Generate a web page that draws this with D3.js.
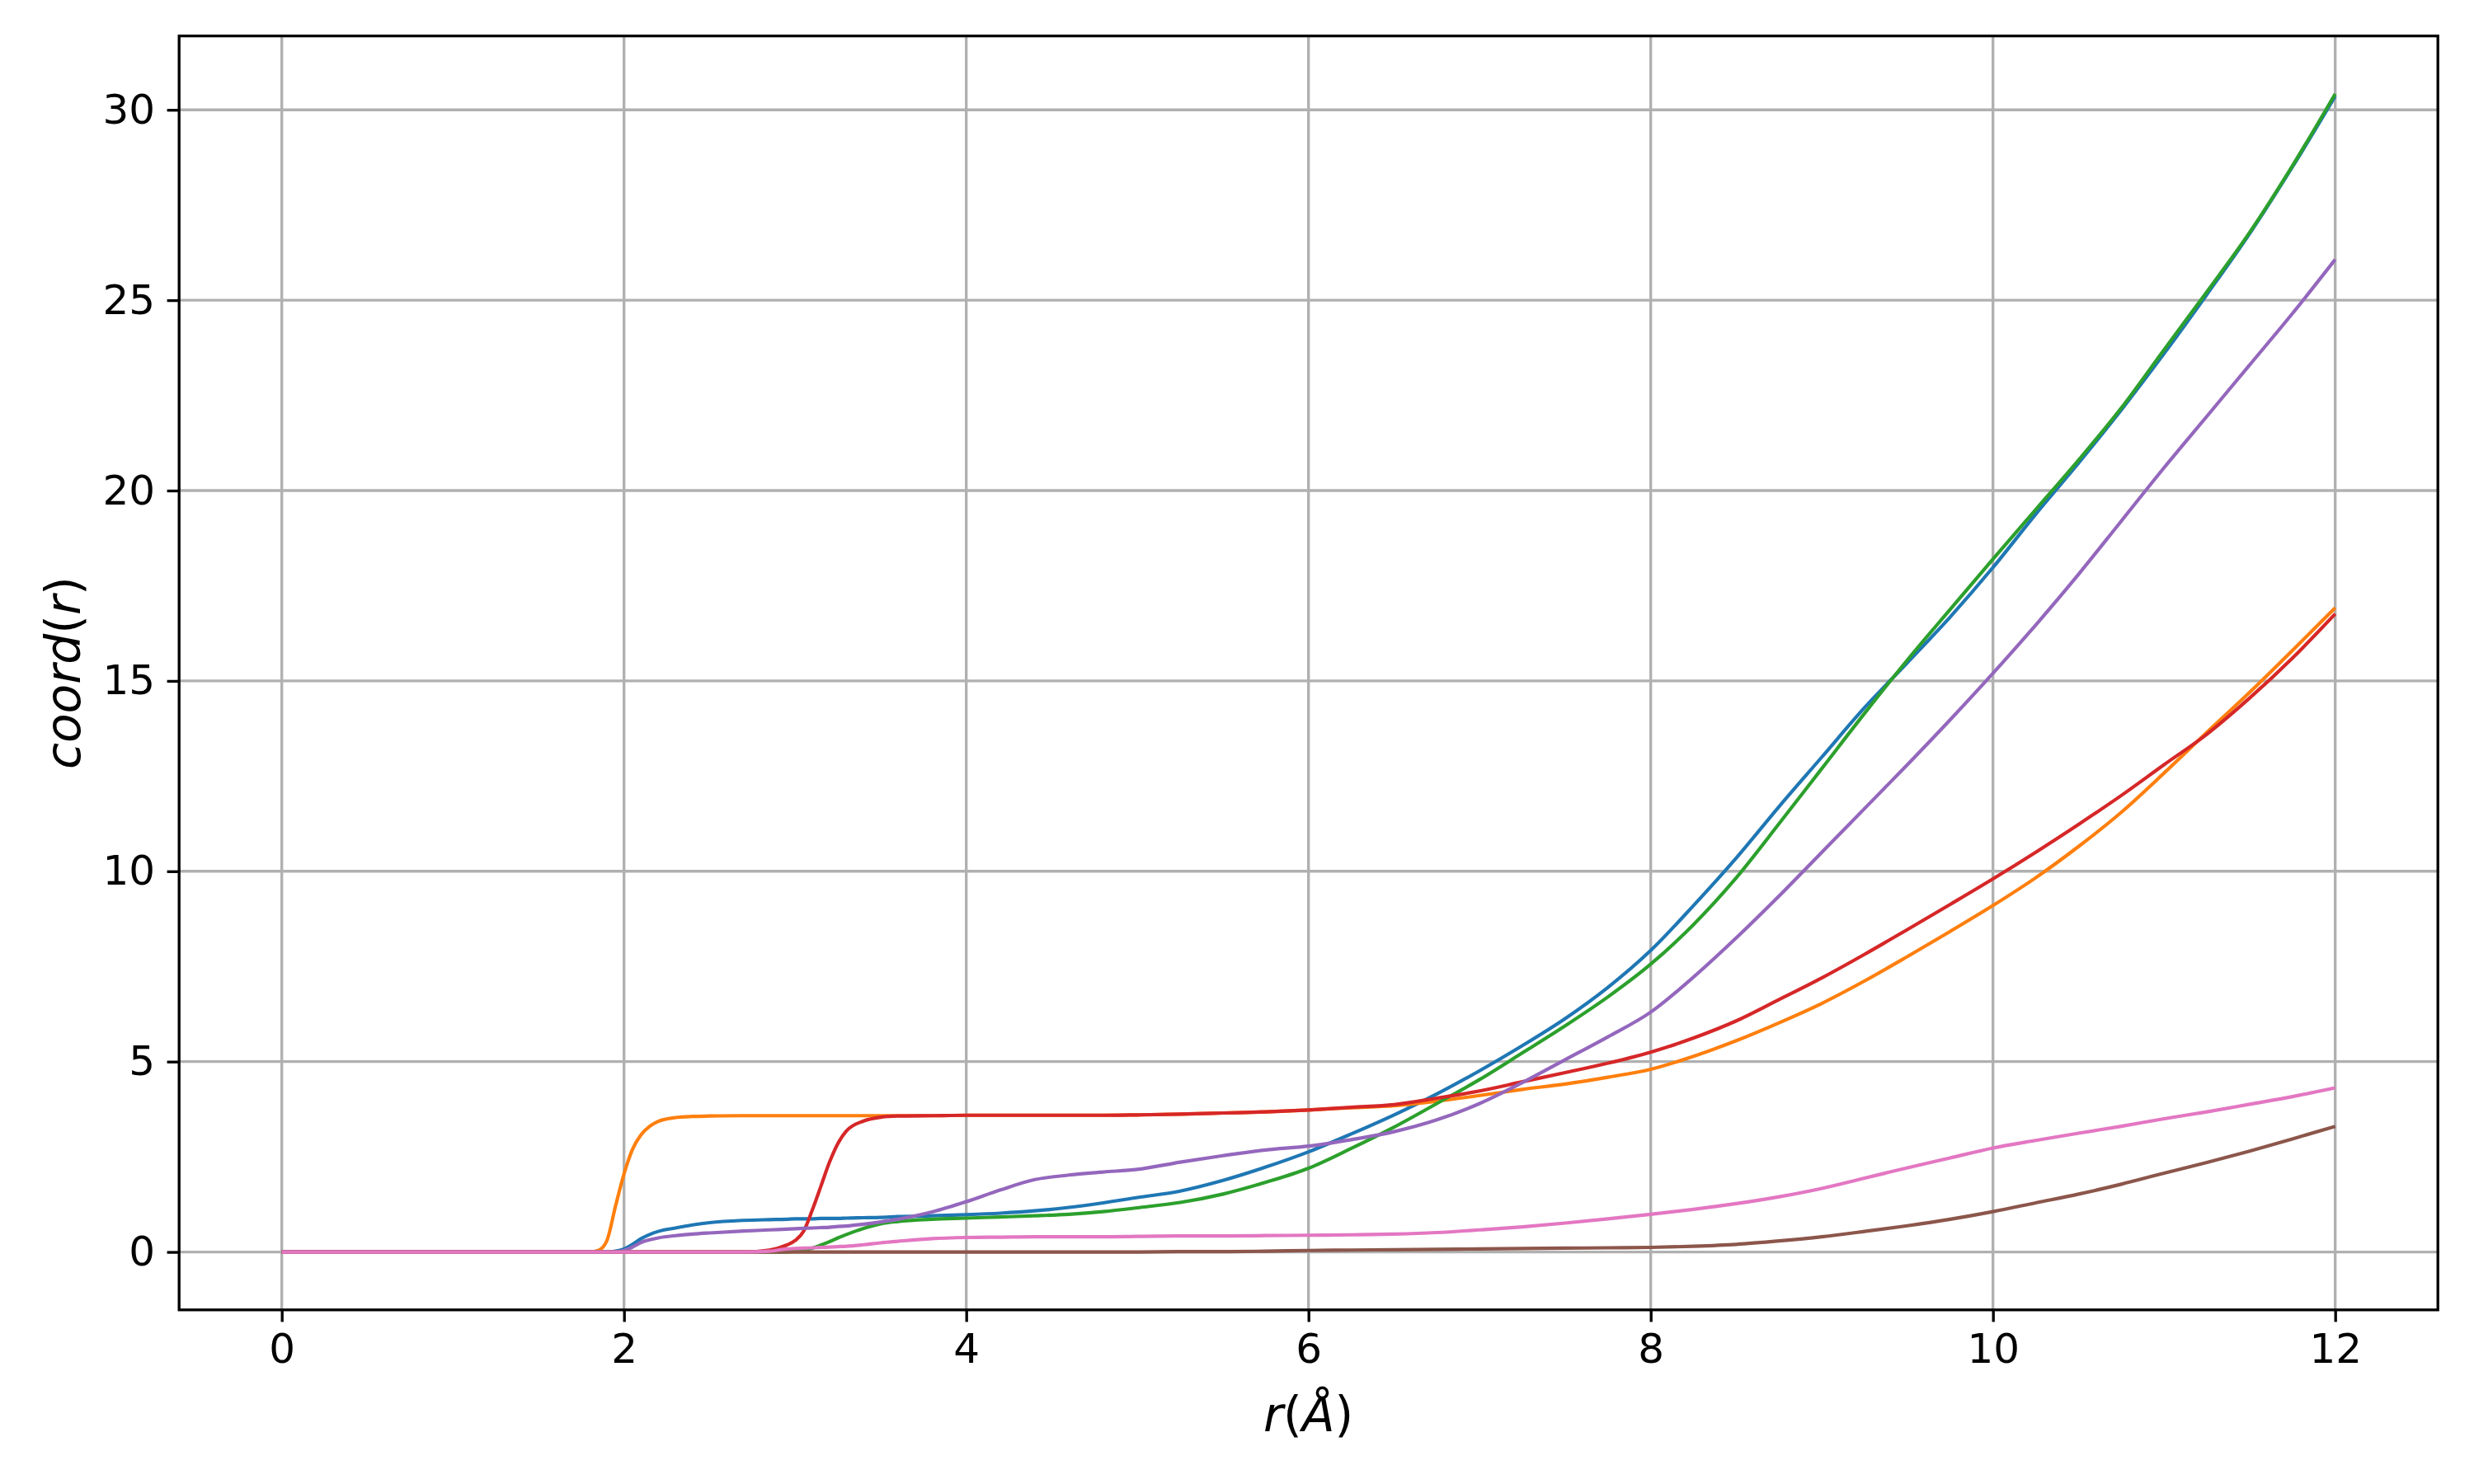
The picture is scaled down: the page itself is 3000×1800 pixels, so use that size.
<!DOCTYPE html>
<html>
<head>
<meta charset="utf-8">
<script src="https://cdn.jsdelivr.net/npm/d3@7"></script>
<style>
    body { margin: 0; background: #fff; }
    svg { display: block; font-family: "DejaVu Sans", sans-serif; }
</style>
</head>
<body>
<svg id="chart" width="3000" height="1800"></svg>
<script>
// radius grid shared by every curve (angstrom)
var rGrid = [0,
    1.8, 1.85, 1.9, 1.95, 2.0, 2.05, 2.1, 2.15, 2.2, 2.3, 2.4, 2.5,
    2.7, 2.85, 2.95, 3.0, 3.05, 3.1, 3.15, 3.2, 3.25, 3.3, 3.4, 3.5, 3.6, 3.8,
    4.0, 4.2, 4.4, 4.6, 4.8, 5.0, 5.25, 5.5, 5.75,
    6.0, 6.25, 6.5, 6.75, 7.0, 7.25, 7.5, 7.75, 8.0, 8.25, 8.5, 8.75,
    9.0, 9.25, 9.5, 9.75, 10.0, 10.25, 10.5, 10.75, 11.0, 11.25, 11.5, 11.75, 12.0];

// coordination numbers, one list per curve
var coordBlue = [0,
    0, 0, 0, 0.02, 0.08, 0.2, 0.35, 0.46, 0.54, 0.63, 0.71, 0.77,
    0.83, 0.85, 0.86, 0.87, 0.87, 0.87, 0.88, 0.88, 0.88, 0.89, 0.9, 0.91, 0.93, 0.95,
    0.98, 1.02, 1.08, 1.17, 1.29, 1.43, 1.6, 1.88, 2.23,
    2.63, 3.1, 3.6, 4.15, 4.76, 5.42, 6.13, 6.95, 7.92, 9.1, 10.35, 11.7,
    13.0, 14.3, 15.48, 16.68, 17.98, 19.38, 20.72, 22.12, 23.6, 25.15, 26.75, 28.5, 30.36];

var coordOrange = [0,
    0, 0.04, 0.3, 1.2, 2.05, 2.7, 3.08, 3.3, 3.43, 3.53, 3.56, 3.57,
    3.58, 3.58, 3.58, 3.58, 3.58, 3.58, 3.58, 3.58, 3.58, 3.58, 3.58, 3.58, 3.58, 3.58,
    3.59, 3.59, 3.59, 3.59, 3.59, 3.6, 3.62, 3.65, 3.68,
    3.73, 3.79, 3.84, 3.96, 4.11, 4.27, 4.41, 4.59, 4.8, 5.14, 5.55, 6.02,
    6.53, 7.12, 7.76, 8.42, 9.1, 9.83, 10.65, 11.55, 12.58, 13.65, 14.7, 15.8, 16.92];

var coordGreen = [0,
    0, 0, 0, 0, 0, 0, 0, 0, 0, 0, 0, 0,
    0, 0, 0, 0.02, 0.05, 0.1, 0.18, 0.27, 0.37, 0.46, 0.62, 0.74, 0.8, 0.86,
    0.89, 0.92, 0.95, 0.99, 1.06, 1.16, 1.3, 1.52, 1.83,
    2.2, 2.72, 3.28, 3.9, 4.53, 5.23, 5.94, 6.7, 7.56, 8.6, 9.83, 11.25,
    12.7, 14.15, 15.55, 16.88, 18.2, 19.5, 20.8, 22.17, 23.7, 25.22, 26.78, 28.53, 30.42];

var coordRed = [0,
    0, 0, 0, 0, 0, 0, 0, 0, 0, 0, 0, 0,
    0, 0.05, 0.18, 0.3, 0.55, 1.1, 1.72, 2.35, 2.85, 3.18, 3.44, 3.54, 3.57, 3.58,
    3.59, 3.59, 3.59, 3.59, 3.59, 3.6, 3.62, 3.65, 3.68,
    3.73, 3.8, 3.87, 4.04, 4.23, 4.47, 4.71, 4.96, 5.25, 5.62, 6.07, 6.63,
    7.2, 7.82, 8.47, 9.13, 9.8, 10.5, 11.23, 11.99, 12.8, 13.6, 14.55, 15.6, 16.76];

var coordPurple = [0,
    0, 0, 0, 0, 0.04, 0.13, 0.25, 0.32, 0.37, 0.43, 0.47, 0.5,
    0.55, 0.58, 0.6, 0.61, 0.62, 0.63, 0.64, 0.65, 0.67, 0.68, 0.73, 0.79, 0.86, 1.05,
    1.32, 1.63, 1.9, 2.02, 2.1, 2.17, 2.36, 2.53, 2.68,
    2.78, 2.95, 3.16, 3.47, 3.9, 4.45, 5.05, 5.65, 6.3, 7.22, 8.25, 9.35,
    10.5, 11.65, 12.8, 13.98, 15.2, 16.47, 17.8, 19.2, 20.6, 21.95, 23.3, 24.65, 26.07];

var coordBrown = [0,
    0, 0, 0, 0, 0, 0, 0, 0, 0, 0, 0, 0,
    0, 0, 0, 0, 0, 0, 0, 0, 0, 0, 0, 0, 0, 0,
    0, 0, 0, 0, 0, 0, 0.01, 0.01, 0.02,
    0.04, 0.05, 0.06, 0.07, 0.08, 0.09, 0.1, 0.11, 0.12, 0.15, 0.2, 0.29,
    0.4, 0.54, 0.69, 0.86, 1.06, 1.29, 1.52, 1.78, 2.07, 2.35, 2.65, 2.97, 3.3];

var coordPink = [0,
    0, 0, 0, 0, 0, 0, 0, 0, 0, 0, 0, 0,
    0, 0.02, 0.08, 0.09, 0.1, 0.11, 0.12, 0.13, 0.14, 0.15, 0.19, 0.24, 0.28, 0.35,
    0.38, 0.39, 0.4, 0.4, 0.4, 0.41, 0.42, 0.42, 0.43,
    0.44, 0.45, 0.47, 0.51, 0.58, 0.66, 0.76, 0.87, 0.99, 1.12, 1.27, 1.45,
    1.67, 1.94, 2.21, 2.47, 2.73, 2.93, 3.12, 3.3, 3.5, 3.68, 3.88, 4.08, 4.31];

// drawing order follows the matplotlib colour cycle
var curves = [coordBlue, coordOrange, coordGreen, coordRed, coordPurple, coordBrown, coordPink];
var curveColors = ['#1f77b4', '#ff7f0e', '#2ca02c', '#d62728', '#9467bd', '#8c564b', '#e377c2'];

var xTicks = [0, 2, 4, 6, 8, 10, 12];
var yTicks = [0, 5, 10, 15, 20, 25, 30];

(function (d3) {
    var svg = d3.select('#chart'),
        left = 217.2,
        right = 2956.2,
        top = 43.6,
        bottom = 1588.8,
        lw = 3.33,        // 0.8pt at 300 dpi
        tickLen = 14.6,   // 3.5pt
        tickFont = 50,    // 12pt
        labelFont = 58.3; // 14pt

    var x = d3.scaleLinear().domain([-0.6, 12.6]).range([left, right]),
        y = d3.scaleLinear().domain([-1.521, 31.941]).range([bottom, top]);

    svg.append('rect')
        .attr('width', 3000).attr('height', 1800)
        .attr('fill', '#fff');

    svg.append('defs').append('clipPath').attr('id', 'plotClip')
        .append('rect')
        .attr('x', left).attr('y', top)
        .attr('width', right - left).attr('height', bottom - top);

    // grid lines sit under the curves
    var grid = svg.append('g').attr('class', 'grid');
    grid.selectAll('line.gx').data(xTicks).enter().append('line')
        .attr('class', 'gx')
        .attr('x1', function (d) { return x(d); })
        .attr('x2', function (d) { return x(d); })
        .attr('y1', top).attr('y2', bottom);
    grid.selectAll('line.gy').data(yTicks).enter().append('line')
        .attr('class', 'gy')
        .attr('y1', function (d) { return y(d); })
        .attr('y2', function (d) { return y(d); })
        .attr('x1', left).attr('x2', right);
    grid.selectAll('line')
        .attr('stroke', '#b0b0b0')
        .attr('stroke-width', lw)
        .attr('stroke-linecap', 'square');

    // the curves
    var line = d3.line()
        .x(function (d) { return x(d[0]); })
        .y(function (d) { return y(d[1]); })
        .curve(d3.curveMonotoneX);

    svg.append('g').attr('clip-path', 'url(#plotClip)')
        .selectAll('path')
        .data(curves)
        .enter().append('path')
        .attr('d', function (vals) {
            return line(rGrid.map(function (r, i) { return [r, vals[i]]; }));
        })
        .attr('fill', 'none')
        .attr('stroke', function (d, i) { return curveColors[i]; })
        .attr('stroke-width', 4.17)
        .attr('stroke-linejoin', 'round')
        .attr('stroke-linecap', 'butt');

    // axes
    var xAxis = svg.append('g')
        .attr('transform', 'translate(0,' + bottom + ')')
        .call(d3.axisBottom(x).tickValues(xTicks).tickSize(tickLen).tickPadding(tickLen)
            .tickFormat(d3.format('d')));
    var yAxis = svg.append('g')
        .attr('transform', 'translate(' + left + ',0)')
        .call(d3.axisLeft(y).tickValues(yTicks).tickSize(tickLen).tickPadding(tickLen)
            .tickFormat(d3.format('d')));

    [xAxis, yAxis].forEach(function (a) {
        a.select('.domain').remove();
        a.selectAll('.tick line').attr('stroke', '#000').attr('stroke-width', lw);
        a.selectAll('.tick text')
            .attr('fill', '#000')
            .style('font-family', '"DejaVu Sans", sans-serif')
            .style('font-size', tickFont + 'px');
    });

    // spines
    svg.append('rect')
        .attr('x', left).attr('y', top)
        .attr('width', right - left).attr('height', bottom - top)
        .attr('fill', 'none')
        .attr('stroke', '#000')
        .attr('stroke-width', lw)
        .attr('stroke-linejoin', 'miter');

    // axis labels, mathtext style: italic letters, upright brackets
    function mathLabel(g, parts) {
        var t = g.append('text')
            .attr('text-anchor', 'middle')
            .style('font-size', labelFont + 'px')
            .attr('fill', '#000');
        parts.forEach(function (p) {
            t.append('tspan')
                .style('font-style', p[1] ? 'italic' : 'normal')
                .text(p[0]);
        });
        return t;
    }

    mathLabel(svg.append('g').attr('transform', 'translate(' + ((left + right) / 2) + ',1736)'),
        [['r', true], ['(', false], ['\u00c5', true], [')', false]]);

    mathLabel(svg.append('g').attr('transform', 'translate(97,' + ((top + bottom) / 2) + ') rotate(-90)'),
        [['coord', true], ['(', false], ['r', true], [')', false]]);

}(window.d3));
</script>
</body>
</html>
